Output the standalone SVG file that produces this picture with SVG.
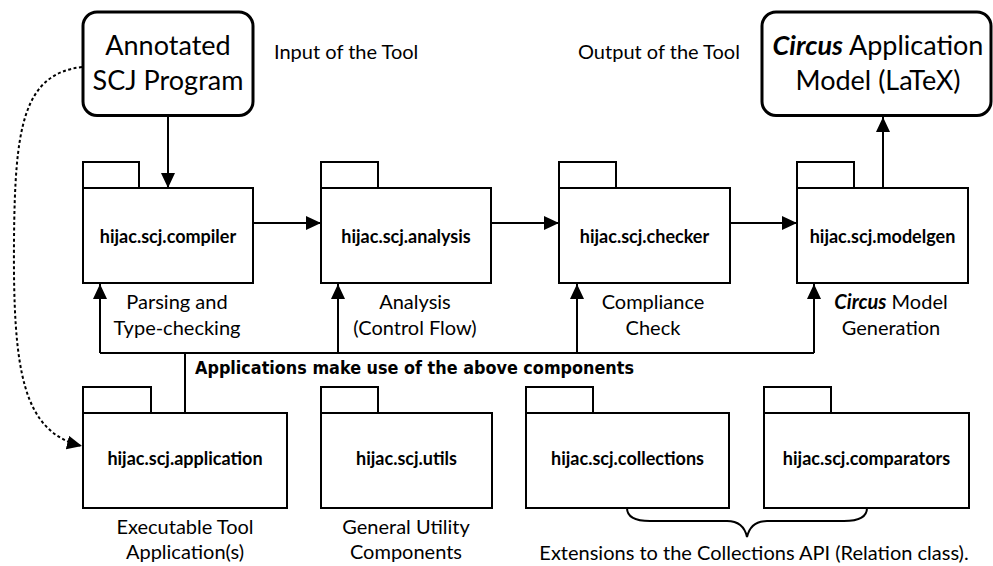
<svg xmlns="http://www.w3.org/2000/svg" width="993" height="566" viewBox="0 0 993 566">
  <style>
    .pkg { fill: #ffffff; stroke: #000000; stroke-width: 2; }
    .io { fill: #ffffff; stroke: #000000; stroke-width: 3; }
    .line { fill: none; stroke: #000000; stroke-width: 2; }
    .dotted { fill: none; stroke: #000000; stroke-width: 2; stroke-dasharray: 3 2.5; }
    .name { font-family: Lato, "Liberation Sans", sans-serif; font-weight: bold; font-size: 18px; text-anchor: middle; fill: #000; }
    .label { font-family: Lato, "Liberation Sans", sans-serif; font-size: 20px; text-anchor: middle; fill: #000; }
    .big { font-family: Lato, "Liberation Sans", sans-serif; font-size: 27px; text-anchor: middle; fill: #000; }
    .note { font-family: "DejaVu Sans", sans-serif; font-weight: bold; font-size: 17px; fill: #000; }
    .em { font-weight: bold; font-style: italic; }
  </style>
  <defs>
    <marker id="arrow" markerUnits="userSpaceOnUse" markerWidth="16" markerHeight="14" refX="15" refY="7" orient="auto">
      <path d="M0,0 L15,7 L0,14 z" fill="#000"/>
    </marker>
  </defs>

  <!-- input and output documents -->
  <g id="input">
    <rect class="io" x="83" y="12" width="170" height="103.5" rx="14"/>
    <text class="big" x="168" y="55">Annotated</text>
    <text class="big" x="168" y="90">SCJ Program</text>
  </g>
  <g id="output">
    <rect class="io" x="762" y="12" width="229" height="103.5" rx="14"/>
    <text class="big" x="878" y="55"><tspan class="em">Circus</tspan> Application</text>
    <text class="big" x="878" y="90">Model (LaTeX)</text>
  </g>
  <text class="label" x="274" y="59" style="text-anchor:start">Input of the Tool</text>
  <text class="label" x="578" y="59" style="text-anchor:start">Output of the Tool</text>

  <!-- tool pipeline packages -->
  <g id="compiler">
    <rect class="pkg" x="83" y="162" width="56" height="26"/>
    <rect class="pkg" x="83" y="188" width="170" height="95"/>
    <text class="name" x="168" y="243">hijac.scj.compiler</text>
    <text class="label" x="177" y="309">Parsing and</text>
    <text class="label" x="177" y="335">Type-checking</text>
  </g>
  <g id="analysis">
    <rect class="pkg" x="321" y="162" width="57" height="26"/>
    <rect class="pkg" x="321" y="188" width="170" height="95"/>
    <text class="name" x="406" y="243">hijac.scj.analysis</text>
    <text class="label" x="415" y="309">Analysis</text>
    <text class="label" x="415" y="335">(Control Flow)</text>
  </g>
  <g id="checker">
    <rect class="pkg" x="559" y="162" width="57" height="26"/>
    <rect class="pkg" x="559" y="188" width="171" height="95"/>
    <text class="name" x="644.5" y="243">hijac.scj.checker</text>
    <text class="label" x="653" y="309">Compliance</text>
    <text class="label" x="653" y="335">Check</text>
  </g>
  <g id="modelgen">
    <rect class="pkg" x="797" y="162" width="57" height="26"/>
    <rect class="pkg" x="797" y="188" width="171" height="95"/>
    <text class="name" x="882.5" y="243">hijac.scj.modelgen</text>
    <text class="label" x="891" y="309"><tspan class="em">Circus</tspan> Model</text>
    <text class="label" x="891" y="335">Generation</text>
  </g>

  <!-- supporting packages -->
  <g id="application">
    <rect class="pkg" x="83" y="387" width="68" height="26"/>
    <rect class="pkg" x="83" y="413" width="204" height="95"/>
    <text class="name" x="185" y="465">hijac.scj.application</text>
    <text class="label" x="185" y="534">Executable Tool</text>
    <text class="label" x="185" y="559">Application(s)</text>
  </g>
  <g id="utils">
    <rect class="pkg" x="321" y="387" width="57" height="26"/>
    <rect class="pkg" x="321" y="413" width="171" height="95"/>
    <text class="name" x="406.5" y="465">hijac.scj.utils</text>
    <text class="label" x="406" y="534">General Utility</text>
    <text class="label" x="406" y="559">Components</text>
  </g>
  <g id="collections">
    <rect class="pkg" x="526" y="387" width="67" height="26"/>
    <rect class="pkg" x="526" y="413" width="203" height="95"/>
    <text class="name" x="627.5" y="465">hijac.scj.collections</text>
  </g>
  <g id="comparators">
    <rect class="pkg" x="764" y="387" width="67" height="26"/>
    <rect class="pkg" x="764" y="413" width="205" height="95"/>
    <text class="name" x="866.5" y="465">hijac.scj.comparators</text>
  </g>
  <text class="label" x="754" y="560">Extensions to the Collections API (Relation class).</text>

  <!-- connectors -->
  <g id="connectors">
    <line class="line" x1="168" y1="116" x2="168" y2="188" marker-end="url(#arrow)"/>
    <line class="line" x1="883" y1="188" x2="883" y2="117" marker-end="url(#arrow)"/>
    <line class="line" x1="253" y1="223" x2="321" y2="223" marker-end="url(#arrow)"/>
    <line class="line" x1="491" y1="223" x2="559" y2="223" marker-end="url(#arrow)"/>
    <line class="line" x1="730" y1="223" x2="797" y2="223" marker-end="url(#arrow)"/>
    <path class="line" d="M100,353 L814,353"/>
    <line class="line" x1="100" y1="353" x2="100" y2="284" marker-end="url(#arrow)"/>
    <line class="line" x1="338" y1="353" x2="338" y2="284" marker-end="url(#arrow)"/>
    <line class="line" x1="577" y1="353" x2="577" y2="284" marker-end="url(#arrow)"/>
    <line class="line" x1="814" y1="353" x2="814" y2="284" marker-end="url(#arrow)"/>
    <line class="line" x1="185" y1="353" x2="185" y2="413"/>
    <path class="dotted" d="M82,67 C22,74 15,130 14,240 C13,370 22,432 82,446" marker-end="url(#arrow)"/>
    <path class="line" d="M627,508 C627,517 635,521 650,521 L727,521 C740,521 745,528 747,537 C749,528 754,521 767,521 L844,521 C859,521 867,517 867,508"/>
  </g>
  <text class="note" x="195" y="374" textLength="439" lengthAdjust="spacingAndGlyphs">Applications make use of the above components</text>
</svg>
